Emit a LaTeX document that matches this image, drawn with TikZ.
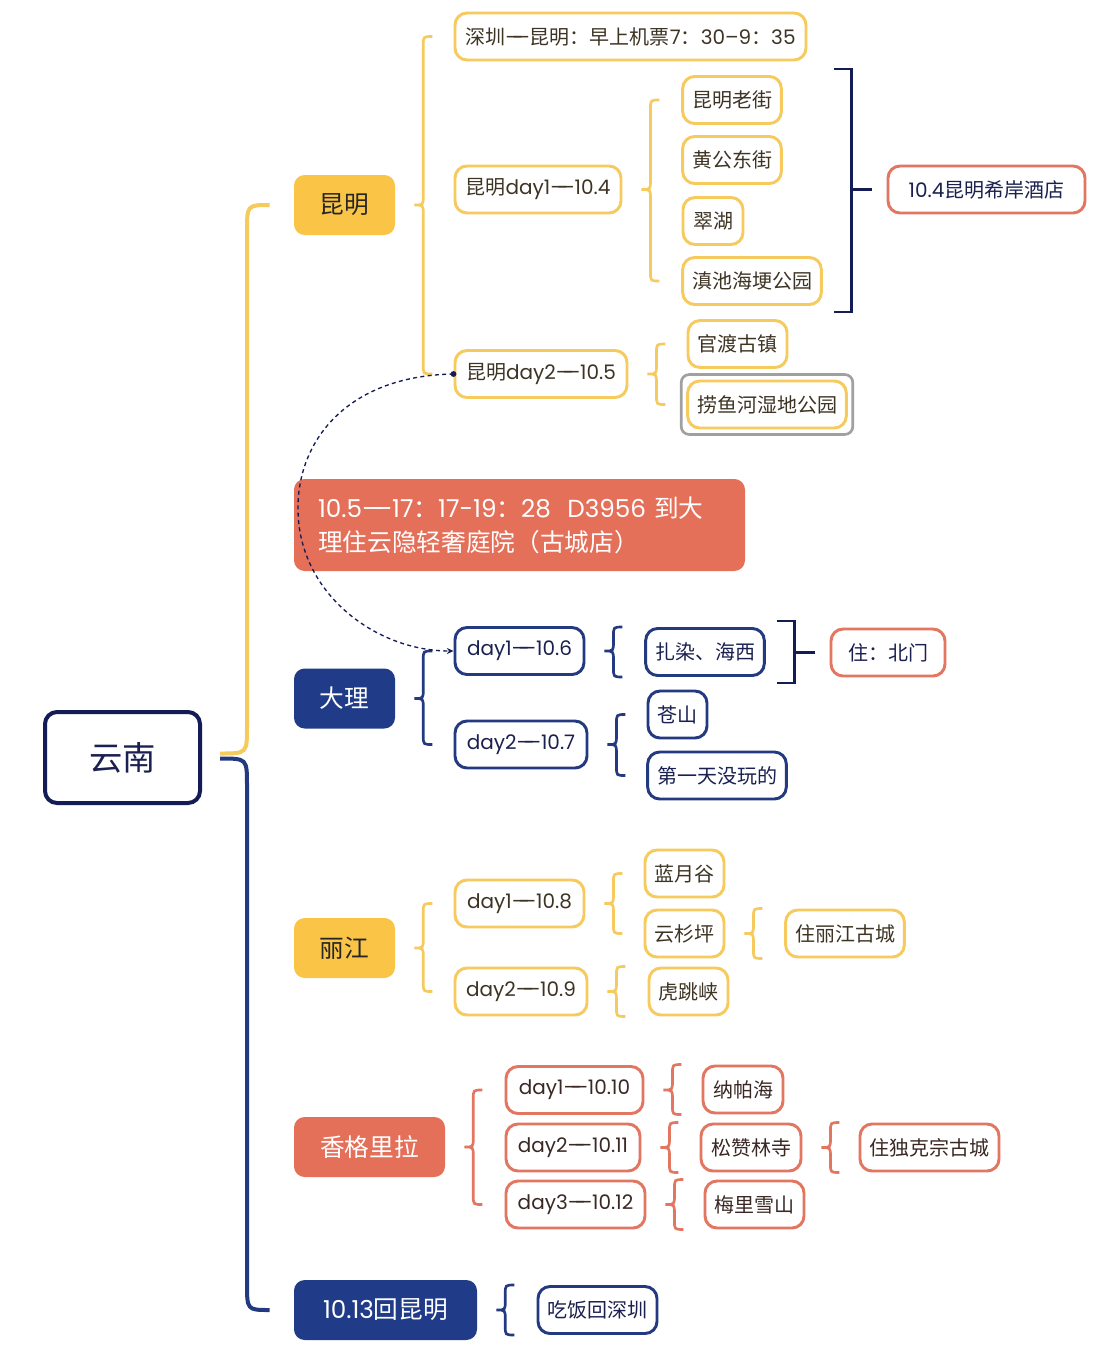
\documentclass[tikz,border=0pt]{standalone}
\usepackage{fontspec}
\setmainfont{Noto Sans CJK SC}
\newfontfamily\lat{Poppins}
\usetikzlibrary{arrows.meta,calc}

\definecolor{mmyellow}{RGB}{250,197,70}
\definecolor{mmyline}{RGB}{246,202,92}
\definecolor{mmnavy}{RGB}{32,60,136}
\definecolor{mmnline}{RGB}{36,58,128}
\definecolor{mmdark}{RGB}{20,28,86}
\definecolor{mmred}{RGB}{228,112,90}
\definecolor{mmrline}{RGB}{226,118,96}
\definecolor{mmtext}{RGB}{62,52,36}
\definecolor{mmntext}{RGB}{26,32,80}
\definecolor{mmrtext}{RGB}{58,40,36}
\definecolor{mmgray}{RGB}{160,160,160}

\newcommand{\mmdash}{{\lat —\kern-.55em—}}
\newcommand{\mmbrace}[4]{%
  \draw[#1] let \p1=($(#2.east)+(19,0)$), \p2=(#3), \p3=(#4) in
    (\x1+13.5pt,\y2) .. controls (\x1+6.75pt,\y2) .. (\x1+6.75pt,\y2-6.75pt)
    -- (\x1+6.75pt,\y1+6.75pt) .. controls (\x1+6.75pt,\y1) .. (\x1,\y1)
    .. controls (\x1+6.75pt,\y1) .. (\x1+6.75pt,\y1-6.75pt)
    -- (\x1+6.75pt,\y3+6.75pt) .. controls (\x1+6.75pt,\y3) .. (\x1+13.5pt,\y3);}
\newcommand{\mmbracket}[3]{%
  \draw[bracketline] let \p1=(#1.north), \p2=(#2.south), \p3=(#3.west) in
    (\x3-39.75pt,\y1+4.5pt) -- (\x3-26.25pt,\y1+4.5pt) -- (\x3-26.25pt,\y2-4.5pt) -- (\x3-39.75pt,\y2-4.5pt)
    (\x3-26.25pt,\y3) -- (\x3-11.25pt,\y3);}

\begin{document}
\begin{tikzpicture}[x=0.75pt,y=-0.75pt,
  chip/.style={rounded corners=9pt,line width=2.2pt,minimum height=35.25pt,inner xsep=7pt,inner ysep=0pt,font=\fontsize{15}{18}\selectfont},
  ychip/.style={chip,draw=mmyline,text=mmtext},
  nchip/.style={chip,draw=mmnline,text=mmntext},
  rchip/.style={chip,draw=mmrline,text=mmrtext},
  topic/.style={rounded corners=8pt,minimum height=45pt,inner xsep=8pt,font=\fontsize{18.5}{22}\selectfont},
  wd/.style={minimum width=#1*0.75pt},
  ybrace/.style={draw=mmyline,line width=2pt},
  nbrace/.style={draw=mmnline,line width=2pt},
  rbrace/.style={draw=mmrline,line width=2pt},
  bracketline/.style={draw=mmdark,line width=2pt},
  trunk/.style={line width=3pt},
  linkdash/.style={mmdark,line width=1pt,dash pattern=on 3pt off 2.5pt,-{Stealth[length=5pt,width=4.5pt]}}]

\fill[white] (0,0) rectangle (1098,1353);
\useasboundingbox (0,0) rectangle (1098,1353);

\node[draw=mmdark,line width=3pt,rounded corners=9pt,wd=155,minimum height=68.25pt,text=mmntext,
      font=\fontsize{25}{30}\selectfont] (yn) at (122.5,757.5) {云南};

\node[topic,fill=mmyellow,text=black!85,wd=101] (km) at (344.5,205) {昆明};
\node[topic,fill=mmred,text=white,minimum width=338.25pt,minimum height=69pt,text width=302.25pt,
      inner xsep=18pt,align=left,font=\fontsize{18.5}{25.5}\selectfont] (note) at (519.5,525)
  {{\lat 10.5\mmdash 17}：{\lat 17-19}：{\lat 28\ \ D3956} 到大\\理住云隐轻奢庭院（古城店）};
\node[topic,fill=mmnavy,text=white,wd=101] (dl) at (344.5,698.5) {大理};
\node[topic,fill=mmyellow,text=black!85,wd=101] (lj) at (344.5,948) {丽江};
\node[topic,fill=mmred,text=white,wd=151] (xg) at (369.5,1147) {香格里拉};
\node[topic,fill=mmnavy,text=white,wd=183] (hk) at (385.5,1310) {{\lat 10.13}回昆明};

\node[ychip,wd=351] (kma) at (630.5,36.5) {深圳\mmdash 昆明：早上机票{\lat 7}：{\lat 30–9}：{\lat 35}};
\node[ychip,wd=166] (kmb) at (538,189.5) {昆明{\lat day1\mmdash 10.4}};
\node[ychip,wd=172] (kmc) at (541,374) {昆明{\lat day2\mmdash 10.5}};
\node[ychip,wd=98] (lao) at (732,100) {昆明老街};
\node[ychip,wd=98] (hg) at (732,160) {黄公东街};
\node[ychip,wd=60] (ch) at (713,221) {翠湖};
\node[ychip,wd=138] (dc) at (752,281) {滇池海埂公园};
\node[rchip,text=mmntext,wd=197] (jd) at (986.5,189.5) {{\lat 10.4}昆明希岸酒店};
\node[ychip,wd=99] (gd) at (737.5,344) {官渡古镇};
\node[ychip,wd=158] (lyh) at (767,404.5) {捞鱼河湿地公园};
\draw[mmgray,line width=2pt,rounded corners=6pt] ($(lyh.south west)+(-5,5)$) rectangle ($(lyh.north east)+(5,-5)$);

\node[nchip,wd=129] (d6) at (519.5,651) {\lat day1\mmdash 10.6};
\node[nchip,wd=132] (d7) at (521,744.5) {\lat day2\mmdash 10.7};
\node[nchip,wd=118] (zr) at (705,652) {扎染、海西};
\node[rchip,text=mmntext,wd=114] (bm) at (888,652.5) {住：北门};
\node[nchip,wd=59] (cs) at (677.5,714.5) {苍山};
\node[nchip,wd=138] (dy) at (717,775.5) {第一天没玩的};

\node[ychip,wd=129] (d8) at (519.5,903.5) {\lat day1\mmdash 10.8};
\node[ychip,wd=132] (d9) at (521,991.5) {\lat day2\mmdash 10.9};
\node[ychip,wd=79] (lyg) at (684.5,873.5) {蓝月谷};
\node[ychip,wd=79] (ysp) at (684.5,933.5) {云杉坪};
\node[ychip,wd=118] (ljgc) at (845,933.5) {住丽江古城};
\node[ychip,wd=79] (htx) at (688.5,991.5) {虎跳峡};

\node[rchip,wd=137] (d10) at (574.5,1090) {\lat day1\mmdash 10.10};
\node[rchip,wd=134] (d11) at (573,1147.5) {\lat day2\mmdash 10.11};
\node[rchip,wd=139] (d12) at (575.5,1204.5) {\lat day3\mmdash 10.12};
\node[rchip,wd=80] (nph) at (743,1089.5) {纳帕海};
\node[rchip,wd=100] (sz) at (751,1147.5) {松赞林寺};
\node[rchip,wd=99] (ml) at (754.5,1204.5) {梅里雪山};
\node[rchip,wd=139] (dkz) at (929.5,1147.5) {住独克宗古城};

\node[nchip,wd=119] (cf) at (597.5,1310) {吃饭回深圳};

\draw[trunk,mmyline] let \p1=($(yn.east)+(18,-4)$), \p2=($(km.west)+(-24,0)$) in
  (\p1) .. controls (\x1+20.25pt,\y1) .. (\x1+20.25pt,\y1+20.25pt) -- (\x1+20.25pt,\y2-20.25pt)
  .. controls (\x1+20.25pt,\y2) .. (\p2);
\draw[trunk,mmnline] let \p1=($(yn.east)+(18,1)$), \p2=($(hk.west)+(-24,0)$) in
  (\p1) .. controls (\x1+20.25pt,\y1) .. (\x1+20.25pt,\y1-20.25pt) -- (\x1+20.25pt,\y2+20.25pt)
  .. controls (\x1+20.25pt,\y2) .. (\p2);

\mmbrace{ybrace}{km}{kma}{kmc}
\mmbrace{ybrace}{kmb}{lao}{dc}
\mmbrace{ybrace}{kmc}{gd}{lyh}
\mmbracket{lao}{dc}{jd}

\mmbrace{nbrace}{dl}{d6}{d7}
\mmbrace{nbrace}{d6}{zr.north}{zr.south}
\mmbrace{nbrace}{d7}{cs}{dy}
\mmbracket{zr}{zr}{bm}

\mmbrace{ybrace}{lj}{d8}{d9}
\mmbrace{ybrace}{d8}{lyg}{ysp}
\mmbrace{ybrace}{ysp}{ljgc.north}{ljgc.south}
\mmbrace{ybrace}{d9}{htx.north}{htx.south}

\mmbrace{rbrace}{xg}{d10}{d12}
\mmbrace{rbrace}{d10}{nph.north}{nph.south}
\mmbrace{rbrace}{d11}{sz.north}{sz.south}
\mmbrace{rbrace}{d12}{ml.north}{ml.south}
\mmbrace{rbrace}{sz}{dkz.north}{dkz.south}

\mmbrace{nbrace}{hk}{cf.north}{cf.south}

\draw[linkdash] (kmc.west) .. controls (340,376) and (290,450) .. (299,525)
  .. controls (308,600) and (380,651) .. (d6.west);
\fill[mmdark] (kmc.west) circle (2.2pt);
\end{tikzpicture}
\end{document}
